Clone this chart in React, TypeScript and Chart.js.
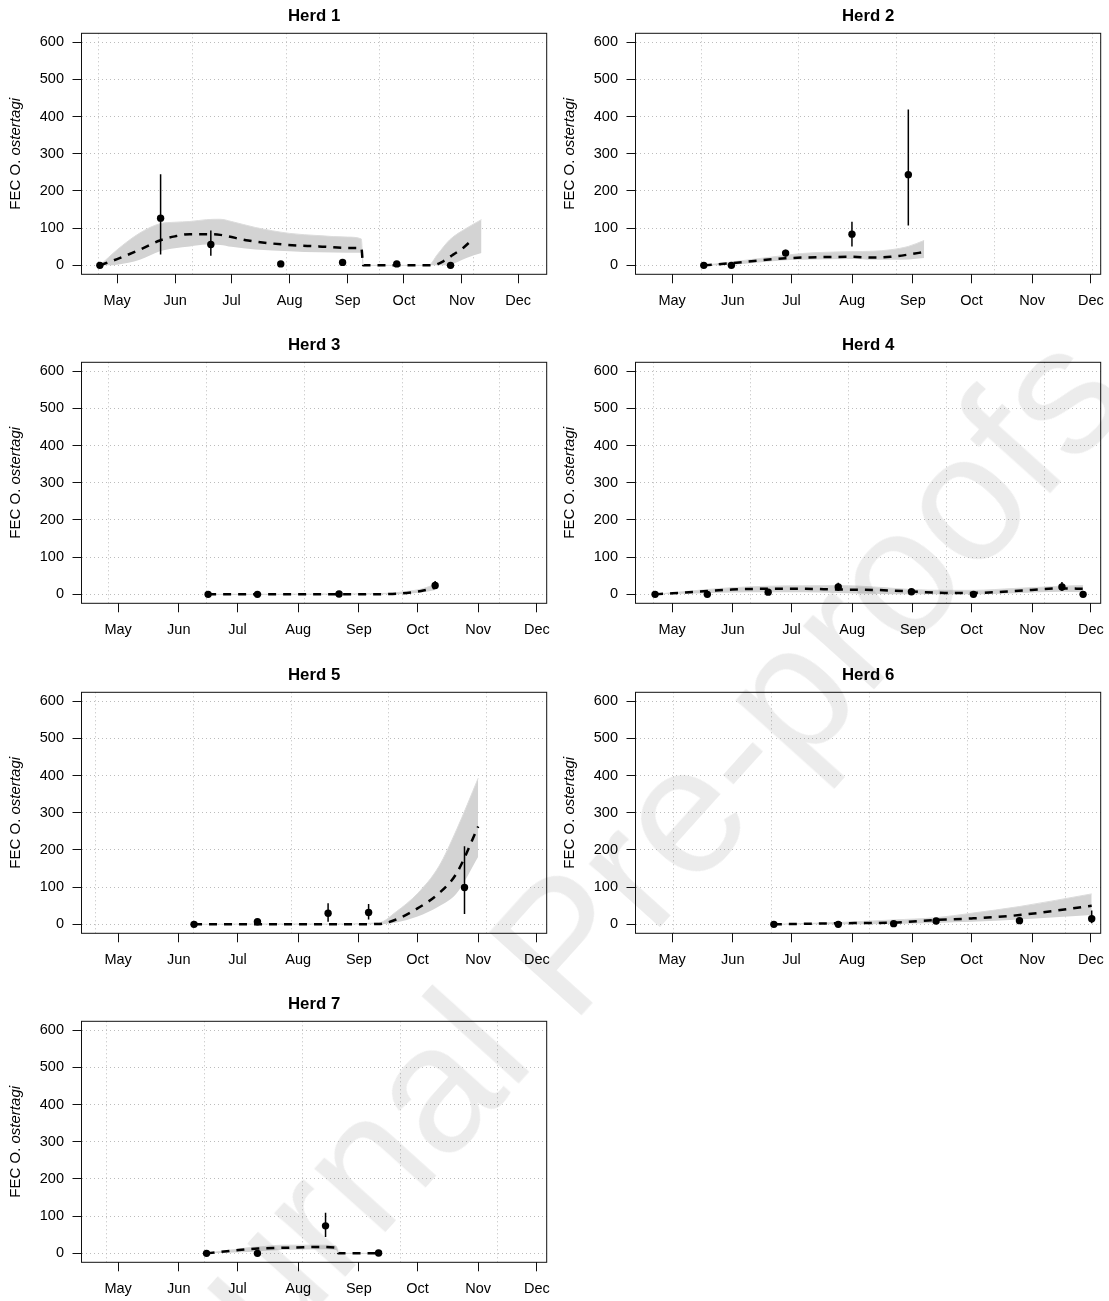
import React, { useEffect, useRef } from 'react';
import { Chart, registerables } from 'chart.js';

Chart.register(...registerables);

const FONT = "'Liberation Sans', Arial, Helvetica, sans-serif";

// x axis: day of year; month ticks
const monthDays = [121, 152, 182, 213, 244, 274, 305, 335];
const monthLabels = ['May', 'Jun', 'Jul', 'Aug', 'Sep', 'Oct', 'Nov', 'Dec'];
const yTickValues = [0, 100, 200, 300, 400, 500, 600];

// Herd 1
const h1ObsDay = [111.8, 144.2, 171.0, 208.3, 241.3, 270.2, 298.9];
const h1ObsFec = [0, 127, 56, 4, 8, 4, 0];
const h1ObsLo = [0, 29, 26, 4, 8, 4, 0];
const h1ObsHi = [0, 245, 94, 4, 8, 4, 0];
const h1MeanDay = [111.8, 121, 133.1, 143.8, 151.8, 159.8, 168.7, 176, 190.9, 209.8, 228.7, 244, 251.3, 252.3, 270, 289, 295, 300.3, 305.6, 311.3];
const h1MeanFec = [0, 17, 42, 67, 78, 84, 84, 82, 67, 56, 51, 47, 47, 0, 0, 0, 11, 29, 47, 73];
const h1BandDay = [111.8, 121, 133.1, 143.8, 151.8, 159.8, 168.7, 176, 182, 194.7, 213, 228.7, 244, 251.3, 252.3, 270, 287, 292, 298.5, 307.4, 315.4];
const h1BandLo = [0, 2, 15, 38, 46, 51, 56, 55, 50, 43, 38, 35, 34, 34, 0, 0, 0, 0, 2, 20, 33];
const h1BandHi = [0, 42, 87, 112, 116, 118, 123, 124, 118, 102, 86, 80, 76, 71, 0, 0, 0, 30, 69, 100, 123];

// Herd 2
const h2ObsDay = [137.2, 151.3, 179.0, 212.9, 241.7];
const h2ObsFec = [0, 0, 33, 84, 244];
const h2ObsLo = [0, 0, 24, 51, 107];
const h2ObsHi = [0, 0, 42, 117, 419];
const h2MeanDay = [137.2, 151.3, 165, 179, 187.6, 212.9, 223.7, 232.7, 241.7, 249.8];
const h2MeanFec = [0, 6, 13, 19, 21, 23, 21, 23, 29, 36];
const h2BandDay = [137.2, 151.3, 165, 179, 187.6, 212.9, 223.7, 232.7, 241.7, 249.8];
const h2BandLo = [0, 2, 8, 14, 15, 17, 15, 15, 16, 20];
const h2BandHi = [0, 9, 18, 27, 32, 37, 38, 42, 51, 67];

// Herd 3
const h3ObsDay = [167.0, 192.2, 233.9, 283.0];
const h3ObsFec = [0, 0, 1, 24];
const h3ObsLo = [0, 0, 1, 15];
const h3ObsHi = [0, 0, 1, 36];
const h3MeanDay = [167, 192.2, 233.9, 259.5, 268.5, 275.8, 283];
const h3MeanFec = [0, 0, 0, 1, 4, 9, 18];
const h3BandDay = [167, 192.2, 233.9, 259.5, 268.5, 275.8, 283];
const h3BandLo = [0, 0, 0, 0, 2, 5, 12];
const h3BandHi = [0, 0, 1, 3, 8, 14, 27];

// Herd 4
const h4ObsDay = [112.3, 139.0, 170.1, 205.9, 243.3, 275.0, 320.2, 331.0];
const h4ObsFec = [0, 0, 6, 20, 7, 0, 20, 0];
const h4ObsLo = [0, 0, 6, 9, 7, 0, 9, 0];
const h4ObsHi = [0, 0, 6, 31, 7, 0, 33, 0];
const h4MeanDay = [112.3, 139, 151.6, 170.1, 187.8, 205.9, 223.9, 243.3, 260.2, 275, 296.1, 320.2, 331];
const h4MeanFec = [0, 9, 13, 15, 15, 13, 12, 8, 4, 4, 9, 16, 15];
const h4BandDay = [112.3, 139, 151.6, 170.1, 187.8, 205.9, 223.9, 243.3, 260.2, 275, 296.1, 320.2, 331];
const h4BandLo = [0, 3, 5, 6, 6, 4, 2, 0, 0, 0, 3, 7, 6];
const h4BandHi = [0, 13, 18, 22, 23, 24, 20, 13, 11, 11, 16, 22, 24];

// Herd 5
const h5ObsDay = [159.8, 192.2, 228.3, 249.0, 298.0];
const h5ObsFec = [0, 7, 30, 32, 99];
const h5ObsLo = [0, 7, 7, 13, 28];
const h5ObsHi = [0, 7, 57, 55, 210];
const h5MeanDay = [159.8, 192.2, 228.3, 254.1, 263.1, 274, 284.8, 293.9, 305];
const h5MeanFec = [0, 0, 0, 1, 13, 43, 83, 137, 263];
const h5BandDay = [159.8, 192.2, 228.3, 254.1, 263.1, 274, 284.8, 293.9, 305];
const h5BandLo = [0, 0, 0, 0, 5, 21, 48, 83, 182];
const h5BandHi = [0, 1, 1, 4, 34, 83, 155, 254, 393];

// Herd 6
const h6ObsDay = [173.0, 205.9, 234.2, 255.9, 298.5, 335.4];
const h6ObsFec = [0, 0, 2, 9, 10, 15];
const h6ObsLo = [0, 0, 2, 9, 10, 3];
const h6ObsHi = [0, 0, 2, 9, 10, 37];
const h6MeanDay = [173, 205.9, 234.2, 255.9, 274, 298.5, 335.4];
const h6MeanFec = [0, 3, 5, 12, 16, 25, 50];
const h6BandDay = [173, 205.9, 234.2, 255.9, 274, 298.5, 335.4];
const h6BandLo = [0, 0, 1, 4, 7, 13, 25];
const h6BandHi = [0, 5, 12, 18, 30, 48, 82];

// Herd 7
const h7ObsDay = [166.2, 192.2, 227.0, 254.1];
const h7ObsFec = [0, 0, 74, 1];
const h7ObsLo = [0, 0, 44, 1];
const h7ObsHi = [0, 0, 109, 1];
const h7MeanDay = [166.2, 187.3, 192.5, 205.3, 223.4, 232.4, 233.6, 254.1];
const h7MeanFec = [0, 11, 13, 15, 17, 15, 0, 0];
const h7BandDay = [166.2, 187.3, 192.5, 205.3, 223.4, 232.4, 233.6, 254.1];
const h7BandLo = [0, 4, 6, 9, 11, 9, 0, 0];
const h7BandHi = [0, 15, 17, 22, 22, 20, 0, 0];

type Herd = {
  title: string;
  xMin: number;
  xMax: number;
  gridStart: number;
  obsDay: number[];
  obsFec: number[];
  obsLo: number[];
  obsHi: number[];
  meanDay: number[];
  meanFec: number[];
  bandDay: number[];
  bandLo: number[];
  bandHi: number[];
};

const herds: Herd[] = [
  { title: 'Herd 1', xMin: 102.0, xMax: 350.2, gridStart: 111.2, obsDay: h1ObsDay, obsFec: h1ObsFec, obsLo: h1ObsLo, obsHi: h1ObsHi, meanDay: h1MeanDay, meanFec: h1MeanFec, bandDay: h1BandDay, bandLo: h1BandLo, bandHi: h1BandHi },
  { title: 'Herd 2', xMin: 102.3, xMax: 340.0, gridStart: 135.8, obsDay: h2ObsDay, obsFec: h2ObsFec, obsLo: h2ObsLo, obsHi: h2ObsHi, meanDay: h2MeanDay, meanFec: h2MeanFec, bandDay: h2BandDay, bandLo: h2BandLo, bandHi: h2BandHi },
  { title: 'Herd 3', xMin: 102.3, xMax: 340.0, gridStart: 116.1, obsDay: h3ObsDay, obsFec: h3ObsFec, obsLo: h3ObsLo, obsHi: h3ObsHi, meanDay: h3MeanDay, meanFec: h3MeanFec, bandDay: h3BandDay, bandLo: h3BandLo, bandHi: h3BandHi },
  { title: 'Herd 4', xMin: 102.3, xMax: 340.0, gridStart: 111.3, obsDay: h4ObsDay, obsFec: h4ObsFec, obsLo: h4ObsLo, obsHi: h4ObsHi, meanDay: h4MeanDay, meanFec: h4MeanFec, bandDay: h4BandDay, bandLo: h4BandLo, bandHi: h4BandHi },
  { title: 'Herd 5', xMin: 102.3, xMax: 340.0, gridStart: 109.4, obsDay: h5ObsDay, obsFec: h5ObsFec, obsLo: h5ObsLo, obsHi: h5ObsHi, meanDay: h5MeanDay, meanFec: h5MeanFec, bandDay: h5BandDay, bandLo: h5BandLo, bandHi: h5BandHi },
  { title: 'Herd 6', xMin: 102.3, xMax: 340.0, gridStart: 121.9, obsDay: h6ObsDay, obsFec: h6ObsFec, obsLo: h6ObsLo, obsHi: h6ObsHi, meanDay: h6MeanDay, meanFec: h6MeanFec, bandDay: h6BandDay, bandLo: h6BandLo, bandHi: h6BandHi },
  { title: 'Herd 7', xMin: 102.3, xMax: 340.0, gridStart: 115.1, obsDay: h7ObsDay, obsFec: h7ObsFec, obsLo: h7ObsLo, obsHi: h7ObsHi, meanDay: h7MeanDay, meanFec: h7MeanFec, bandDay: h7BandDay, bandLo: h7BandLo, bandHi: h7BandHi },
];

const PANEL_W = 554;
const PANEL_H = 330;
const rowTops = [0, 329, 659, 988];
const TICK_FONT = 14.5;
const LAB_FONT = 15;

function Panel({ herd, left, top }: { herd: Herd; left: number; top: number }) {
  const ref = useRef<HTMLCanvasElement | null>(null);

  useEffect(() => {
    const canvas = ref.current;
    if (!canvas) return;

    const gridDays: number[] = [];
    for (let d = herd.gridStart - 100; d <= herd.xMax; d += 50) {
      if (d >= herd.xMin) gridDays.push(d);
    }

    const datasets: any[] = [];
    datasets.push({
      label: 'lower',
      data: herd.bandDay.map((x, i) => ({ x, y: herd.bandLo[i] })),
      borderColor: 'rgba(0,0,0,0)',
      borderWidth: 0,
      pointRadius: 0,
      fill: false,
      cubicInterpolationMode: 'monotone',
      order: 10,
    });
    datasets.push({
      label: 'upper',
      data: herd.bandDay.map((x, i) => ({ x, y: herd.bandHi[i] })),
      borderColor: '#dcdcdc',
      borderWidth: 1,
      backgroundColor: '#d3d3d3',
      pointRadius: 0,
      fill: '-1',
      cubicInterpolationMode: 'monotone',
      order: 9,
    });
    datasets.push({
      label: 'mean',
      data: herd.meanDay.map((x, i) => ({ x, y: herd.meanFec[i] })),
      borderColor: '#000',
      borderWidth: 2.5,
      borderDash: [8, 7],
      borderCapStyle: 'butt',
      pointRadius: 0,
      fill: false,
      cubicInterpolationMode: 'monotone',
      order: 5,
    });
    herd.obsDay.forEach((d, i) => {
      if (herd.obsHi[i] > herd.obsLo[i]) {
        datasets.push({
          label: 'ci' + i,
          data: [
            { x: d, y: herd.obsLo[i] },
            { x: d, y: herd.obsHi[i] },
          ],
          borderColor: '#000',
          borderWidth: 1.5,
          pointRadius: 0,
          fill: false,
          order: 3,
        });
      }
    });
    datasets.push({
      label: 'observed',
      data: herd.obsDay.map((x, i) => ({ x, y: herd.obsFec[i] })),
      showLine: false,
      pointRadius: 3.7,
      pointBackgroundColor: '#000',
      pointBorderColor: '#000',
      pointBorderWidth: 0,
      order: 1,
    });

    const decorPlugin = {
      id: 'decor',
      afterDraw(chart: any) {
        const { ctx, chartArea: a } = chart;
        ctx.save();
        ctx.strokeStyle = '#111';
        ctx.lineWidth = 1;
        ctx.setLineDash([]);
        ctx.strokeRect(a.left, a.top, a.right - a.left, a.bottom - a.top);

        ctx.fillStyle = '#000';
        ctx.font = `bold 16.8px ${FONT}`;
        ctx.textAlign = 'center';
        ctx.textBaseline = 'middle';
        ctx.fillText(herd.title, (a.left + a.right) / 2, 16.7);

        ctx.translate(16, (a.top + a.bottom) / 2);
        ctx.rotate(-Math.PI / 2);
        const p1 = 'FEC O. ';
        const p2 = 'ostertagi';
        ctx.font = `${LAB_FONT}px ${FONT}`;
        const w1 = ctx.measureText(p1).width;
        ctx.font = `italic ${LAB_FONT}px ${FONT}`;
        const w2 = ctx.measureText(p2).width;
        const start = -(w1 + w2) / 2;
        ctx.textAlign = 'left';
        ctx.font = `${LAB_FONT}px ${FONT}`;
        ctx.fillText(p1, start, 0);
        ctx.font = `italic ${LAB_FONT}px ${FONT}`;
        ctx.fillText(p2, start + w1, 0);
        ctx.restore();
      },
    };

    const chart = new Chart(canvas, {
      type: 'line',
      data: { datasets },
      plugins: [decorPlugin],
      options: {
        responsive: false,
        animation: false,
        devicePixelRatio: 1,
        events: [],
        layout: { padding: { left: 0, top: 33.3, right: 7.3, bottom: 0 } },
        plugins: {
          legend: { display: false },
          tooltip: { enabled: false },
          title: { display: false },
          filler: { drawTime: 'beforeDatasetsDraw', propagate: false },
        } as any,
        scales: {
          x: {
            type: 'linear',
            position: 'bottom',
            min: herd.xMin,
            max: herd.xMax,
            afterBuildTicks: (s: any) => {
              s.ticks = monthDays.map((v) => ({ value: v }));
            },
            afterFit: (s: any) => {
              s.height = 55.7;
              s.paddingLeft = 0;
              s.paddingRight = 0;
            },
            ticks: {
              autoSkip: false,
              maxRotation: 0,
              minRotation: 0,
              padding: 8.5,
              color: '#000',
              font: { family: FONT, size: TICK_FONT },
              callback: (v: any) => {
                const idx = monthDays.indexOf(Number(v));
                return idx >= 0 ? monthLabels[idx] : '';
              },
            },
            grid: {
              drawOnChartArea: false,
              drawTicks: true,
              tickLength: 9,
              tickColor: '#111',
              tickWidth: 1,
            },
            border: { display: false },
          },
          xg: {
            type: 'linear',
            position: 'bottom',
            min: herd.xMin,
            max: herd.xMax,
            afterBuildTicks: (s: any) => {
              s.ticks = gridDays.map((v) => ({ value: v }));
            },
            afterFit: (s: any) => {
              s.height = 0;
              s.paddingLeft = 0;
              s.paddingRight = 0;
            },
            ticks: { display: false },
            grid: {
              drawOnChartArea: true,
              drawTicks: false,
              color: '#bcbcbc',
              lineWidth: 1,
            },
            border: { display: false, dash: [1, 3] },
          },
          y: {
            type: 'linear',
            position: 'left',
            min: -24,
            max: 624,
            afterBuildTicks: (s: any) => {
              s.ticks = yTickValues.map((v) => ({ value: v }));
            },
            afterFit: (s: any) => {
              s.width = 81.5;
              s.paddingTop = 0;
              s.paddingBottom = 0;
            },
            ticks: {
              padding: 8.5,
              color: '#000',
              font: { family: FONT, size: TICK_FONT },
              callback: (v: any) => String(v),
            },
            grid: {
              drawOnChartArea: true,
              drawTicks: true,
              tickLength: 9,
              tickColor: '#111',
              tickWidth: 1,
              color: '#bcbcbc',
              lineWidth: 1,
            },
            border: { display: false, dash: [1, 3] },
          },
        } as any,
      },
    } as any);

    return () => {
      chart.destroy();
    };
  }, [herd]);

  return (
    <canvas
      ref={ref}
      width={PANEL_W}
      height={PANEL_H}
      style={{ position: 'absolute', left, top, width: PANEL_W, height: PANEL_H, display: 'block' }}
    />
  );
}

export default function App() {
  return (
    <div
      style={{
        position: 'absolute',
        left: 0,
        top: 0,
        width: 1109,
        height: 1301,
        overflow: 'hidden',
        background: '#fff',
      }}
    >
      {herds.map((h, i) => (
        <Panel key={h.title} herd={h} left={(i % 2) * PANEL_W} top={rowTops[Math.floor(i / 2)]} />
      ))}
      <div
        style={{
          position: 'absolute',
          left: 592,
          top: 910,
          transform: 'translate(-50%, -50%) rotate(-48deg)',
          fontFamily: FONT,
          fontSize: 180,
          lineHeight: 1,
          color: '#ececec',
          whiteSpace: 'nowrap',
          mixBlendMode: 'multiply',
          pointerEvents: 'none',
        }}
      >
        Journal Pre-proofs
      </div>
    </div>
  );
}
